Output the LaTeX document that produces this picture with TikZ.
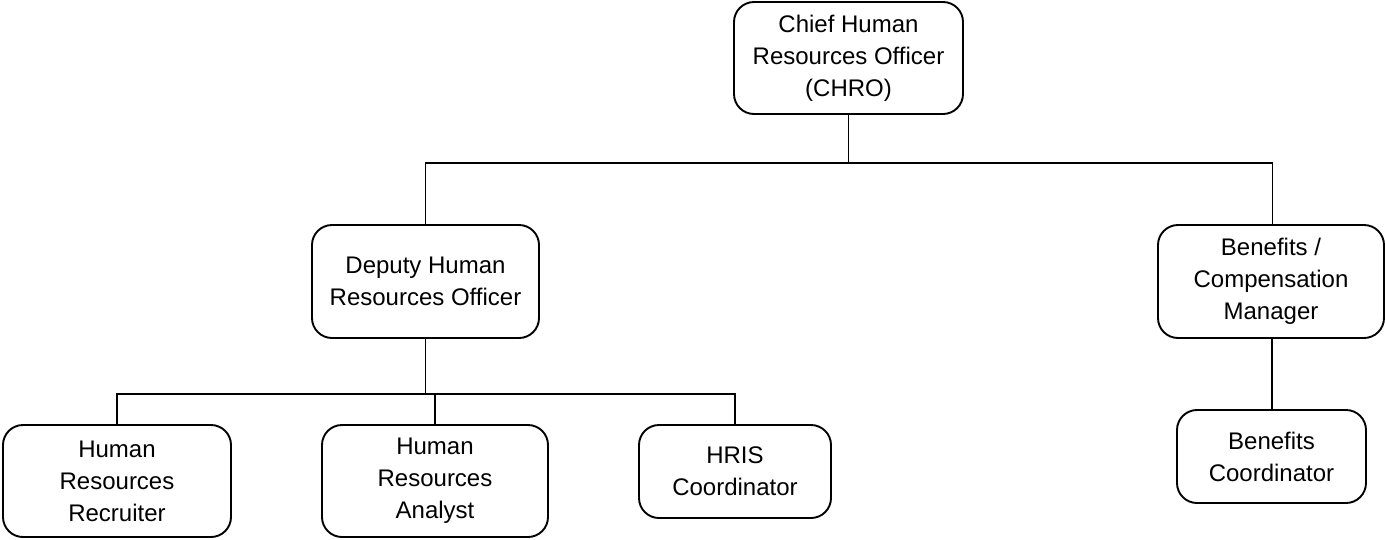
\documentclass[tikz,border=0pt]{standalone}
\usepackage{fontspec}
\setmainfont{Liberation Sans}
\begin{document}
\begin{tikzpicture}[x=1pt,y=-1pt,
  orgbox/.style={draw, line width=1.9pt, rounded corners=20pt, align=center,
    inner sep=0pt, font=\fontsize{24}{32}\selectfont},
  link/.style={line width=1.9pt}]
\useasboundingbox (0,0) rectangle (1385,539);
% top level
\node[orgbox, minimum width=229pt, minimum height=112pt] (chro) at (848.5,58)
  {Chief Human\\Resources Officer\\(CHRO)};
% second level
\node[orgbox, minimum width=227pt, minimum height=113pt] (dep) at (425.5,281.5)
  {Deputy Human\\Resources Officer};
\node[orgbox, minimum width=226pt, minimum height=113pt] (ben) at (1271,281.5)
  {Benefits /\\Compensation\\Manager};
% third level
\node[orgbox, minimum width=228pt, minimum height=112pt] (rec) at (117,481)
  {Human\\Resources\\Recruiter};
\node[orgbox, minimum width=226pt, minimum height=112pt] (ana) at (435,481)
  {Human\\Resources\\Analyst};
\node[orgbox, minimum width=192pt, minimum height=93pt] (hris) at (735,471.5)
  {HRIS\\Coordinator};
\node[orgbox, minimum width=189pt, minimum height=93pt] (bco) at (1271.5,456.5)
  {Benefits\\Coordinator};
% connectors
\coordinate (bus1) at (848.5,163);
\coordinate (bus2) at (425.5,394);
\draw[link] (chro.south) -- (bus1);
\draw[link] (dep.north) |- (bus1) -| ([xshift=1.5pt]ben.north);
\draw[link] (dep.south) -- (bus2);
\draw[link] (rec.north) |- (bus2) -| (hris.north);
\draw[link] (ana.north) -- (ana.north |- bus2);
\draw[link] ([xshift=1pt]ben.south) -- ([xshift=1pt]ben.south |- bco.north);
\end{tikzpicture}
\end{document}
